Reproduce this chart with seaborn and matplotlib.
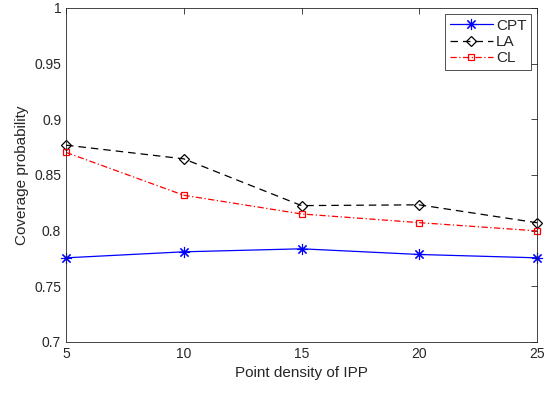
import seaborn as sns
import matplotlib.pyplot as plt
import pandas as pd

# data
density = [5, 10, 15, 20, 25]
cpt = [0.7756, 0.7810, 0.7837, 0.7786, 0.7756]
la = [0.8768, 0.8645, 0.8225, 0.8232, 0.8071]
cl = [0.8703, 0.8318, 0.8150, 0.8072, 0.7998]

sns.set_style("white")
plt.rcParams["font.family"] = ["Liberation Sans", "DejaVu Sans"]

df = pd.DataFrame({"density": density, "CPT": cpt, "LA": la, "CL": cl})

fig = plt.figure(figsize=(5.47, 3.96), dpi=100)
ax = fig.add_axes([0.1207, 0.1364, 0.861, 0.8434])

sns.lineplot(data=df, x="density", y="CPT", ax=ax, color="blue", marker=(8, 2, 0),
             markersize=8, markeredgewidth=0.8, markeredgecolor="blue",
             linewidth=0.9, label="CPT", clip_on=False)
sns.lineplot(data=df, x="density", y="LA", ax=ax, color="black", marker="D",
             markersize=5, markerfacecolor="none", markeredgecolor="black",
             markeredgewidth=0.9, linewidth=0.9, dashes=(6, 4), label="LA",
             clip_on=False)
sns.lineplot(data=df, x="density", y="CL", ax=ax, color="red", marker="s",
             markersize=5, markerfacecolor="none", markeredgecolor="red",
             markeredgewidth=0.9, linewidth=0.9, dashes=(5, 2, 1, 2), label="CL",
             clip_on=False)

ax.set_xlim(5, 25)
ax.set_ylim(0.7, 1.0)
ax.set_xticks([5, 10, 15, 20, 25])
ax.set_yticks([0.7, 0.75, 0.8, 0.85, 0.9, 0.95, 1.0])
ax.set_yticklabels(["0.7", "0.75", "0.8", "0.85", "0.9", "0.95", "1"])
ax.tick_params(direction="in", length=4, width=0.6, top=True, right=True,
               labelsize=10, colors="#262626")
for s in ax.spines.values():
    s.set_linewidth(0.6)
    s.set_color("#262626")

ax.set_xlabel("Point density of IPP", fontsize=11, color="#262626")
ax.set_ylabel("Coverage probability", fontsize=11, color="#262626")

leg = ax.legend(loc="upper right", fontsize=11, frameon=True, fancybox=False,
                edgecolor="black", handlelength=2.8, borderaxespad=0.4,
                handletextpad=0.2, labelspacing=0.15, borderpad=0.3)
leg.get_frame().set_linewidth(0.6)

fig.savefig("out.png", dpi=100)
